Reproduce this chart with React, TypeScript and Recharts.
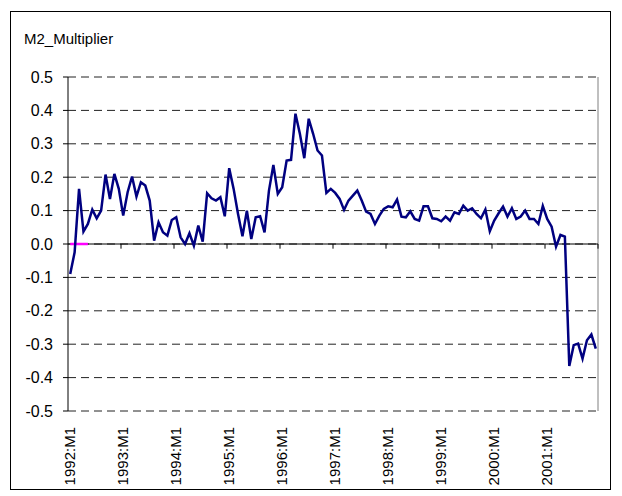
import * as React from "react";
import { LineChart, Line, XAxis, YAxis, CartesianGrid, ReferenceLine } from "recharts";

// 1992:M1 .. 2001:M12, one value per month
const m2Multiplier = [
  -0.09, -0.025, 0.165, 0.037, 0.06, 0.103, 0.077, 0.1, 0.208, 0.135, 0.21, 0.165,
  0.085, 0.155, 0.202, 0.142, 0.185, 0.175, 0.13, 0.01, 0.065, 0.035, 0.025, 0.072,
  0.08, 0.02, 0.0, 0.032, -0.005, 0.055, 0.007, 0.152, 0.137, 0.13, 0.14, 0.083,
  0.227, 0.165, 0.09, 0.023, 0.1, 0.015, 0.08, 0.083, 0.035, 0.16, 0.237, 0.15,
  0.17, 0.25, 0.252, 0.39, 0.33, 0.257, 0.375, 0.33, 0.28, 0.265, 0.153, 0.165,
  0.153, 0.135, 0.102, 0.13, 0.145, 0.16, 0.13, 0.097, 0.09, 0.06, 0.085, 0.105,
  0.113, 0.11, 0.133, 0.082, 0.08, 0.098, 0.075, 0.07, 0.113, 0.113, 0.077, 0.075,
  0.068, 0.082, 0.07, 0.095, 0.09, 0.115, 0.1, 0.107, 0.09, 0.077, 0.103, 0.038,
  0.07, 0.092, 0.112, 0.082, 0.107, 0.075, 0.082, 0.1, 0.075, 0.075, 0.06, 0.114,
  0.075, 0.052, -0.008, 0.027, 0.022, -0.365, -0.303, -0.298, -0.343, -0.288, -0.271, -0.313,
];

// short pink baseline series at the start
const baseline = [0, 0, 0, 0, 0];

const years = [1992, 1993, 1994, 1995, 1996, 1997, 1998, 1999, 2000, 2001];
const yearLabels = ["1992:M1", "1993:M1", "1994:M1", "1995:M1", "1996:M1", "1997:M1", "1998:M1", "1999:M1", "2000:M1", "2001:M1"];
const yTicks = [-0.5, -0.4, -0.3, -0.2, -0.1, 0, 0.1, 0.2, 0.3, 0.4, 0.5];

const months: string[] = [];
years.forEach((y) => {
  for (let m = 1; m <= 12; m++) months.push(`${y}:M${m}`);
});

const data = months.map((label, i) => ({
  label,
  pos: i + 0.5,
  value: m2Multiplier[i],
  base: i < baseline.length ? baseline[i] : null,
}));

const xTicks = yearLabels.map((_, k) => k * 12 + 0.5);
const yearBounds = years.map((_, k) => (k + 1) * 12);

const font = "'Liberation Sans', Arial, sans-serif";

const YearTick = (props: any) => {
  const { x, y, payload } = props;
  const idx = Math.round((payload.value - 0.5) / 12);
  return (
    <text
      x={x}
      y={y}
      dy="0.35em"
      textAnchor="end"
      transform={`rotate(-90, ${x}, ${y})`}
      fontSize={15}
      fontFamily={font}
      fill="#000"
    >
      {yearLabels[idx]}
    </text>
  );
};

export default function App() {
  return (
    <div style={{ position: "absolute", left: 0, top: 0, width: 622, height: 496, background: "#fff" }}>
      <div
        style={{
          position: "absolute",
          left: 10,
          top: 11,
          width: 601,
          height: 479,
          border: "1px solid #000",
          boxSizing: "border-box",
        }}
      />
      <div style={{ position: "absolute", left: 24, top: 30, fontSize: 15, fontFamily: font, color: "#000" }}>
        M2_Multiplier
      </div>
      <LineChart
        width={622}
        height={496}
        data={data}
        margin={{ top: 77, right: 24, bottom: 5, left: 0 }}
        style={{ position: "absolute", left: 0, top: 0 }}
      >
        <CartesianGrid vertical={false} stroke="#222" strokeDasharray="8 5" />
        <XAxis
          type="number"
          dataKey="pos"
          domain={[0, 120]}
          ticks={xTicks}
          interval={0}
          height={80}
          axisLine={false}
          tickLine={false}
          tickSize={0}
          tickMargin={16}
          tick={<YearTick />}
        />
        <YAxis
          domain={[-0.5, 0.5]}
          ticks={yTicks}
          interval={0}
          width={68}
          axisLine={{ stroke: "#000" }}
          tickLine={{ stroke: "#000" }}
          tickSize={5}
          tickMargin={10}
          tickFormatter={(v: number) => v.toFixed(1)}
          tick={{ fontSize: 16, fontFamily: font, fill: "#000" }}
        />
        <ReferenceLine x={120} stroke="#808080" />
        <ReferenceLine y={0} stroke="#000" />
        {yearBounds.map((b) => (
          <ReferenceLine
            key={b}
            segment={[
              { x: b, y: 0 },
              { x: b, y: -0.014 },
            ]}
            stroke="#000"
          />
        ))}
        <Line
          type="linear"
          dataKey="base"
          stroke="#ff00ff"
          strokeWidth={2.5}
          dot={false}
          connectNulls={false}
          isAnimationActive={false}
        />
        <Line
          type="linear"
          dataKey="value"
          stroke="#000080"
          strokeWidth={2.5}
          dot={false}
          isAnimationActive={false}
        />
      </LineChart>
    </div>
  );
}
